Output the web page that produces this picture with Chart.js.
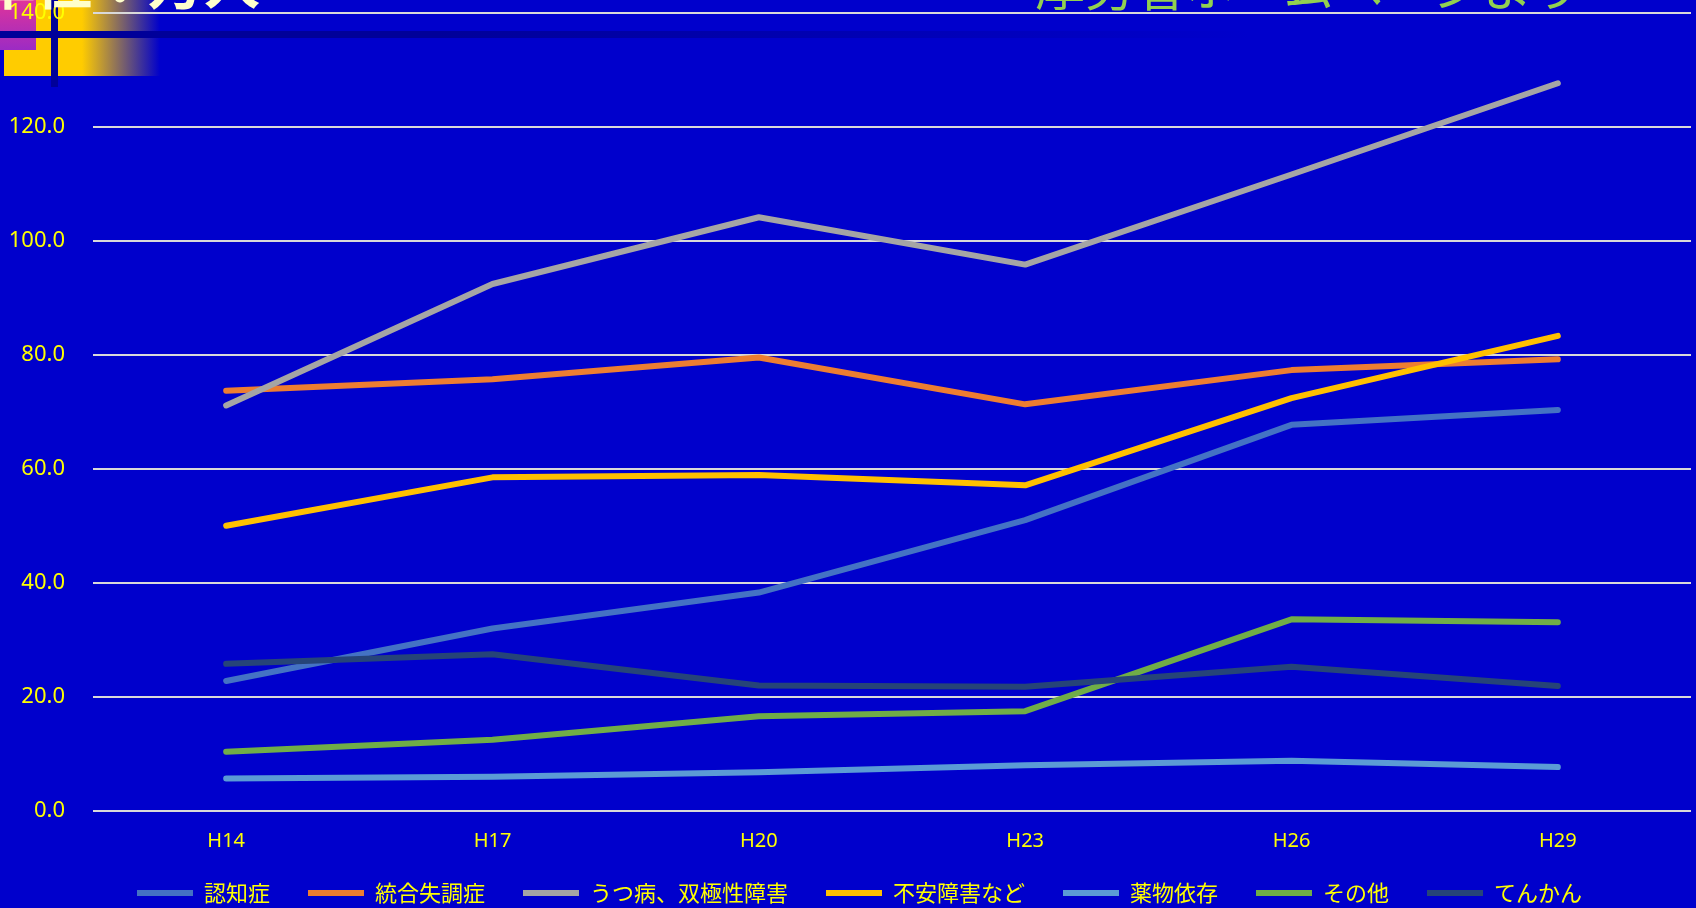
<!DOCTYPE html>
<html lang="ja">
<head>
<meta charset="utf-8">
<title>精神疾患の患者数</title>
<script src="https://cdn.jsdelivr.net/npm/chart.js@4.4.0/dist/chart.umd.min.js"></script>
<style>
  html, body {
    margin: 0;
    padding: 0;
    background: #0000CC;
    overflow: hidden;
  }
  #wrap {
    position: relative;
    width: 1696px;
    height: 908px;
    overflow: hidden;
  }
  /* slide decorations in the top-left corner */
  .deco { position: absolute; }
  #yellowBox {
    left: 4px; top: 0; width: 156px; height: 76px;
    background: linear-gradient(to right, #FFCC00 0%, #FFCC00 50%, rgba(0,0,204,1) 100%);
  }
  #pinkBox {
    left: 0; top: 0; width: 36px; height: 50px;
    background: linear-gradient(to bottom, #E0349A, #9C2BC4);
  }
  #hBar {
    left: 0; top: 31px; width: 1250px; height: 7px;
    background: linear-gradient(to right, #000099 0%, #000099 35%, rgba(0,0,153,0) 100%);
  }
  #vBar {
    left: 51px; top: 0; width: 7px; height: 87px;
    background: #000099;
  }
  .title {
    position: absolute;
    white-space: nowrap;
    line-height: 1;
    font-family: "Noto Sans CJK JP", sans-serif;
  }
  #mainTitle {
    left: -20px; top: -48px;
    font-size: 56px;
    font-weight: bold;
    color: #FFFFCC;
  }
  #source {
    left: 1035px; top: -41px;
    font-size: 50px;
    color: #92D050;
  }
  #chartBox {
    position: absolute;
    left: 0; top: 0;
    width: 1696px;
    height: 908px;
  }
</style>
</head>
<body>
<div id="wrap">
  <div class="deco" id="yellowBox"></div>
  <div class="deco" id="pinkBox"></div>
  <div class="deco" id="hBar"></div>
  <div class="deco" id="vBar"></div>
  <div id="chartBox"><canvas id="myChart"></canvas></div>
  <div class="title" id="mainTitle">単位：万人</div>
  <div class="title" id="source">厚労省ホームページより</div>
</div>
<script>
// survey years
const years = ['H14', 'H17', 'H20', 'H23', 'H26', 'H29'];

// patients per disease (万人)
const dementia      = [22.8, 32.0, 38.3, 51.0, 67.7, 70.3];
const schizophrenia = [73.7, 75.7, 79.5, 71.3, 77.3, 79.2];
const depression    = [71.1, 92.4, 104.1, 95.8, 111.6, 127.6];
const anxiety       = [50.0, 58.5, 58.9, 57.1, 72.4, 83.3];
const drugs         = [5.7, 6.0, 6.8, 8.0, 8.8, 7.7];
const others        = [10.4, 12.5, 16.6, 17.5, 33.6, 33.1];
const epilepsy      = [25.8, 27.5, 22.0, 21.8, 25.3, 21.9];

const seriesNames = ['認知症', '統合失調症', 'うつ病、双極性障害', '不安障害など', '薬物依存', 'その他', 'てんかん'];
const seriesValues = [dementia, schizophrenia, depression, anxiety, drugs, others, epilepsy];
const seriesColors = ['#4472C4', '#ED7D31', '#A5A5A5', '#FFC000', '#5B9BD5', '#70AD47', '#264478'];

// y axis ticks
const yMin = 0;
const yMax = 140;
const yStep = 20;

const textColor = '#FFFF00';
const gridColor = '#D9D9D9';

const datasets = seriesNames.map((name, i) => ({
  label: name,
  data: seriesValues[i],
  borderColor: seriesColors[i],
  backgroundColor: seriesColors[i],
  borderWidth: 6,
  borderCapStyle: 'round',
  borderJoinStyle: 'round',
  pointRadius: 0,
  pointHoverRadius: 0,
  fill: false,
  tension: 0,
  // later series on top
  order: seriesNames.length - i
}));

// put the legend row where it sits on the slide
const legendPlace = {
  id: 'legendPlace',
  afterLayout(c) {
    c.legend.left = 28;
    c.legend.top = 844;
  }
};

const ctx = document.getElementById('myChart').getContext('2d');

const chart = new Chart(ctx, {
  type: 'line',
  data: {
    labels: years,
    datasets: datasets
  },
  plugins: [legendPlace],
  options: {
    responsive: true,
    maintainAspectRatio: false,
    animation: false,
    layout: {
      padding: { top: 12.5, right: 5, bottom: 0, left: 0 }
    },
    plugins: {
      tooltip: { enabled: false },
      legend: {
        position: 'bottom',
        maxHeight: 52,
        labels: {
          usePointStyle: true,
          pointStyle: 'line',
          pointStyleWidth: 56,
          padding: 38,
          color: textColor,
          font: { family: '"Noto Sans CJK JP", sans-serif', size: 22 },
          sort: (a, b) => a.datasetIndex - b.datasetIndex
        }
      }
    },
    scales: {
      x: {
        offset: true,
        grid: { display: false, drawTicks: false },
        border: { display: false },
        ticks: {
          color: textColor,
          padding: 18,
          maxRotation: 0,
          font: { family: '"Noto Sans", sans-serif', size: 20 }
        },
        afterFit: scale => { scale.height = 45; }
      },
      y: {
        min: yMin,
        max: yMax,
        grid: { color: gridColor, lineWidth: 2, drawTicks: false },
        border: { display: false },
        ticks: {
          stepSize: yStep,
          color: textColor,
          padding: 28,
          font: { family: '"Noto Sans", sans-serif', size: 22 },
          callback: v => v.toFixed(1)
        },
        afterFit: scale => {
          scale.width = 93;
          scale.paddingTop = 0;
          scale.paddingBottom = 0;
        }
      }
    }
  }
});
</script>
</body>
</html>
